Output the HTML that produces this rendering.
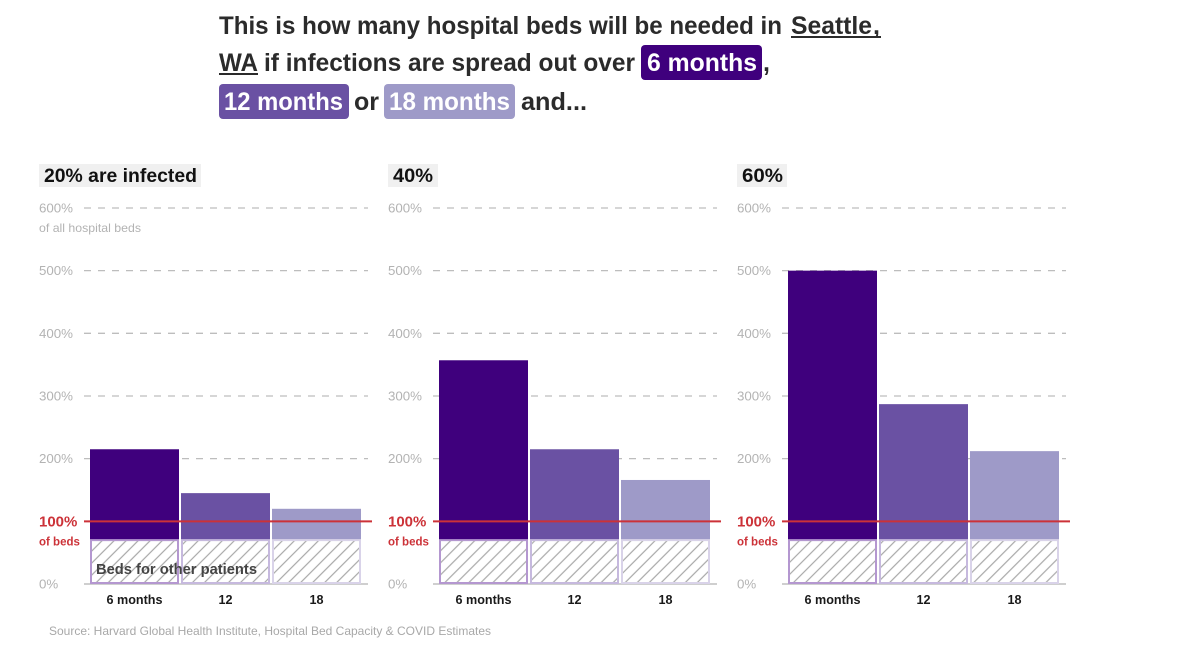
<!DOCTYPE html>
<html lang="en">
<head>
<meta charset="utf-8">
<title>Hospital beds needed in Seattle, WA</title>
<style>
html,body{margin:0;padding:0;background:#fff;}
svg{display:block;font-family:"Liberation Sans",sans-serif;}
</style>
</head>
<body>
<svg id="chart" xmlns="http://www.w3.org/2000/svg" width="1200" height="665" viewBox="0 0 1200 665">
  <defs>
    <pattern id="hatch" width="8.5" height="8.5" patternUnits="userSpaceOnUse" patternTransform="rotate(45)">
      <rect width="8.5" height="8.5" fill="#fff"></rect>
      <line x1="4" y1="0" x2="4" y2="8.5" stroke="#a8a8a8" stroke-width="1.2"></line>
    </pattern>
  </defs>
  <g font-size="25" font-weight="700" fill="#2b2b2b">
    <text x="219" y="34" textLength="563" lengthAdjust="spacingAndGlyphs">This is how many hospital beds will be needed in</text>
    <text x="791" y="34" textLength="81" lengthAdjust="spacingAndGlyphs">Seattle</text>
    <rect x="791" y="36" width="90" height="2" fill="#2b2b2b"></rect>
    <text x="873" y="34">,</text>
    <text x="219" y="71" textLength="39" lengthAdjust="spacingAndGlyphs">WA</text>
    <rect x="219" y="73" width="39" height="2" fill="#2b2b2b"></rect>
    <text x="264" y="71" textLength="371" lengthAdjust="spacingAndGlyphs">if infections are spread out over</text>
    <rect x="641" y="45" width="121" height="35" rx="4" fill="#3f007d"></rect>
    <text x="647" y="71" textLength="110" lengthAdjust="spacingAndGlyphs" fill="#fff">6 months</text>
    <text x="763" y="71">,</text>
    <rect x="219" y="84" width="130" height="35" rx="4" fill="#6a51a3"></rect>
    <text x="224" y="110" textLength="119" lengthAdjust="spacingAndGlyphs" fill="#fff">12 months</text>
    <text x="354" y="110" textLength="25" lengthAdjust="spacingAndGlyphs">or</text>
    <rect x="384" y="84" width="131" height="35" rx="4" fill="#9e9ac8"></rect>
    <text x="389" y="110" textLength="121" lengthAdjust="spacingAndGlyphs" fill="#fff">18 months</text>
    <text x="521" y="110" textLength="66" lengthAdjust="spacingAndGlyphs">and...</text>
  </g>
  <g id="panels"></g>
  <text x="49" y="635" font-size="12" fill="#a8a8a8" textLength="442" lengthAdjust="spacingAndGlyphs">Source: Harvard Global Health Institute, Hospital Bed Capacity &amp; COVID Estimates</text>
</svg>
<script>
const panelTitles = ['20% are infected', '40%', '60%'];
const categories = ['6 months', '12', '18'];
const series20 = [215, 145, 120];
const series40 = [357, 215, 166];
const series60 = [500, 287, 212];
const otherBeds = 70;
const capacity = 100;
const tickValues = [0, 200, 300, 400, 500, 600];
const tickLabels = ['0%', '200%', '300%', '400%', '500%', '600%'];
const capacityLabel = '100%';

const allSeries = [series20, series40, series60];
const barColors = ['#3f007d', '#6a51a3', '#9e9ac8'];
const hatchBorders = ['#b497d0', '#c6b9de', '#d9d3e9'];
const titleWidths = [153, 40, 41];
const pillWidths = [162, 50, 50];
const root = document.getElementById('panels');
const NS = 'http://www.w3.org/2000/svg';

function yScale(v) { return 584 - v * 0.6267; }
function panelX(p) { return 39 + 349 * p; }
function bandX(p, i) { return panelX(p) + 51 + i * 91; }
const bandWidth = 89;

function make(parent, tag, attrs, text) {
  const el = document.createElementNS(NS, tag);
  for (const k in attrs) el.setAttribute(k, attrs[k]);
  if (text !== undefined) el.textContent = text;
  parent.appendChild(el);
  return el;
}

allSeries.forEach((values, p) => {
  const x0 = panelX(p);
  const g = make(root, 'g', {});
  
  

  const pill = make(g, 'rect', { x: x0, y: 164, width: pillWidths[p], height: 23, fill: '#f0f0f0' });
  
  
  const title = make(g, 'text', { x: x0 + 5, y: 182, 'font-size': 19, 'font-weight': 700, fill: '#111', textLength: titleWidths[p], lengthAdjust: 'spacingAndGlyphs' }, panelTitles[p]);
  
  

  tickValues.forEach((t, i) => {
    const y = yScale(t);
    const line = make(g, 'line', { x1: x0 + 45, x2: x0 + 329, y1: y, y2: y, stroke: t === 0 ? '#cfcfcf' : '#bdbdbd', 'stroke-width': t === 0 ? 2 : 1.3, 'stroke-dasharray': t === 0 ? 'none' : '7 7' });
    
    
    const label = make(g, 'text', { x: x0, y: y + 4.5, 'font-size': 13.3, fill: '#b3b3b3' }, tickLabels[i]);
    
    
  });

  values.forEach((v, i) => {
    const x = bandX(p, i);
    const top = yScale(v);
    const mid = yScale(otherBeds);
    const base = yScale(0);
    const bar = make(g, 'rect', { x: x, y: top, width: bandWidth, height: mid - top, fill: barColors[i] });
    
    
    const hatch = make(g, 'rect', { x: x + 1, y: mid, width: bandWidth - 2, height: base - mid - 1, fill: 'url(#hatch)', stroke: hatchBorders[i], 'stroke-width': 2 });
    
    
    const cat = make(g, 'text', { x: x + bandWidth / 2, y: 604, 'font-size': 12.6, 'font-weight': 700, fill: '#1a1a1a', 'text-anchor': 'middle' }, categories[i]);
    
    
  });

  const capY = yScale(capacity);
  const capLine = make(g, 'line', { x1: x0 + 45, x2: x0 + 333, y1: capY, y2: capY, stroke: '#cc3238', 'stroke-width': 2 });
  
  
  const capLabel = make(g, 'text', { x: x0, y: capY + 5, 'font-size': 15, 'font-weight': 700, fill: '#cc3238' }, capacityLabel);
  
  
  const capSub = make(g, 'text', { x: x0, y: capY + 24, 'font-size': 11.5, 'font-weight': 700, fill: '#cc3238' }, 'of beds');
  
  

  if (p === 0) {
    const sub = make(g, 'text', { x: x0, y: 232, 'font-size': 12, fill: '#b3b3b3', textLength: 102, lengthAdjust: 'spacingAndGlyphs' }, 'of all hospital beds');
    
    
    const note = make(g, 'text', { x: 96, y: 574, 'font-size': 15, 'font-weight': 700, fill: '#444', textLength: 161, lengthAdjust: 'spacingAndGlyphs' }, 'Beds for other patients');
    
    
  }
});
</script>
</body>
</html>
